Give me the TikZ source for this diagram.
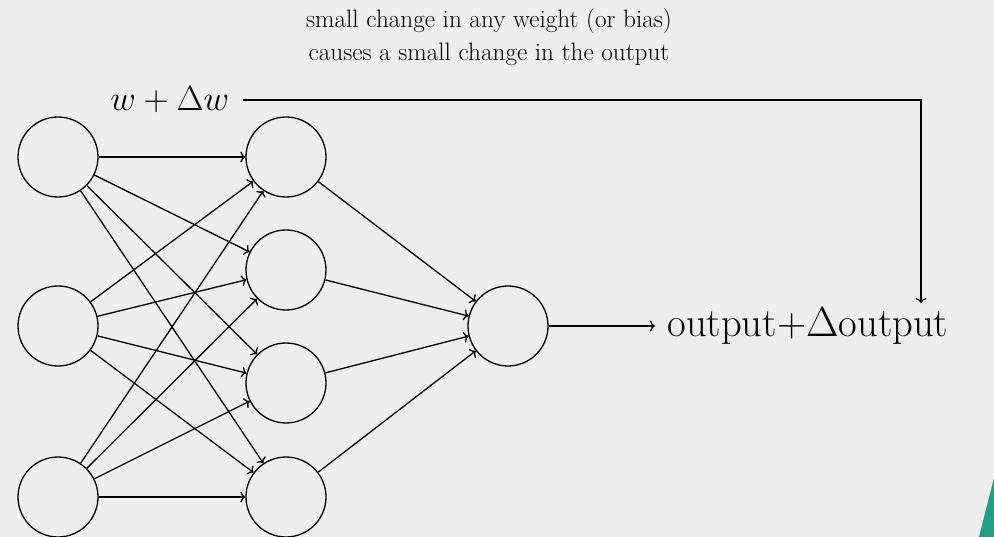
\documentclass[tikz,border=0pt]{standalone}
\usepackage{tikz}
\usetikzlibrary{arrows.meta}
\definecolor{bgc}{RGB}{238,238,238}
\definecolor{teal1}{RGB}{30,160,132}
\tikzset{
  neuron/.style={circle, draw, line width=1.3pt, minimum size=80pt, inner sep=0pt},
  conn/.style={-{To[length=5pt,width=11pt]}, line width=1.3pt},
  toptext/.style={font=\fontsize{20}{26.2}\selectfont, align=center, inner sep=0pt, scale=1.26},
  bigtext/.style={font=\fontsize{20}{24}\selectfont},
}
\begin{document}
\begin{tikzpicture}[x=1pt, y=-1pt]
\fill[bgc] (0,0) rectangle (994,537);
\useasboundingbox (0,0) rectangle (994,537);
\fill[teal1] (994,478) -- (979,537) -- (994,537) -- cycle;
% nodes
\node[neuron] (i1) at (58,157) {};
\node[neuron] (i2) at (58,326) {};
\node[neuron] (i3) at (58,497) {};
\node[neuron] (h1) at (286,157) {};
\node[neuron] (h2) at (286,270) {};
\node[neuron] (h3) at (286,383) {};
\node[neuron] (h4) at (286,497) {};
\node[neuron] (o) at (508,326) {};
\node[bigtext, anchor=west, inner sep=5.9pt, scale=2.03] (outtext) at (655,326) {output+$\Delta$output};
\node[toptext] (top) at (489,37) {small change in any weight (or bias)\\causes a small change in the output};
\node[bigtext, anchor=east, inner sep=8pt, scale=1.69] (wlabel) at (243,100) {$w+\Delta w$};
\coordinate (tip) at (921,303);
% connections
\foreach \i in {1,2,3}{
  \foreach \h in {1,2,3,4}{
    \draw[conn] (i\i) -- (h\h);
  }
}
\foreach \h in {1,2,3,4}{
  \draw[conn] (h\h) -- (o);
}
\draw[conn] (o) -- (outtext);
\draw[conn] (wlabel.east) -| (tip);
\end{tikzpicture}
\end{document}
